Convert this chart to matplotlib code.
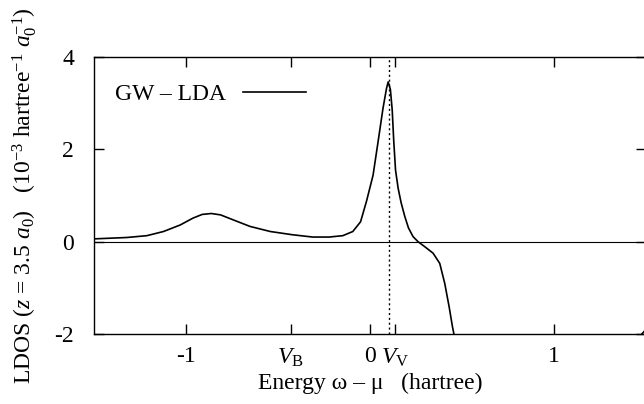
import numpy as np
import matplotlib
matplotlib.use('Agg')
import matplotlib.pyplot as plt

plt.rcParams['font.family'] = 'Liberation Serif'
plt.rcParams['mathtext.fontset'] = 'custom'
plt.rcParams['mathtext.rm'] = 'Liberation Serif'
plt.rcParams['mathtext.it'] = 'Liberation Serif:italic'
plt.rcParams['axes.unicode_minus'] = False

# LDOS difference GW - LDA
energy = [-1.50, -1.32, -1.21, -1.12, -1.03, -0.96, -0.91, -0.86, -0.81, -0.74,
          -0.65, -0.54, -0.42, -0.31, -0.22, -0.146, -0.092, -0.050, -0.018,
          0.018, 0.045, 0.072, 0.091, 0.100, 0.112, 0.122, 0.130, 0.140, 0.154,
          0.170, 0.190, 0.210, 0.235, 0.262, 0.299, 0.344, 0.380, 0.407,
          0.431, 0.449, 0.458, 0.50, 1.40, 1.455, 1.50]
ldos = [0.06, 0.09, 0.13, 0.22, 0.36, 0.51, 0.59, 0.61, 0.58, 0.47,
        0.33, 0.22, 0.15, 0.10, 0.10, 0.13, 0.22, 0.43, 0.87,
        1.44, 2.16, 2.89, 3.32, 3.46, 3.30, 2.85, 2.20, 1.55, 1.16,
        0.85, 0.55, 0.30, 0.11, 0.0, -0.11, -0.25, -0.47, -0.90,
        -1.41, -1.84, -2.02, -3.0, -3.0, -2.1, -1.90]

v_b = -0.429
v_v = 0.136
v_line = 0.106

xticks = [-1, v_b, 0, v_v, 1]
xticklabels = ['-1', r'$V_{\mathrm{B}}$', '0', r'$V_{\mathrm{V}}$', '1']
yticks = [-2, 0, 2, 4]

fig = plt.figure(figsize=(6.44, 4.04), dpi=100)
ax = fig.add_axes([93.5 / 644, 70 / 404, (646 - 93.5) / 644, (334 - 57) / 404])

ax.axhline(0, color='black', lw=0.8)
ax.axvline(v_line, color='black', lw=1.0, ls=(0, (1.5, 2)))
ax.plot(energy, ldos, color='black', lw=1.2, label='GW – LDA')

ax.set_xlim(-1.5, 1.5)
ax.set_ylim(-2, 4)
ax.set_xticks(xticks)
ax.set_xticklabels(xticklabels)
ax.set_yticks(yticks)
ax.tick_params(direction='in', length=7, width=1, top=True, right=True,
               labelsize=17)
ax.tick_params(axis='x', pad=9)
ax.tick_params(axis='y', pad=14)
for s in ax.spines.values():
    s.set_linewidth(1)

ax.set_xlabel('Energy ω – μ   (hartree)', fontsize=17, labelpad=3)
ax.set_ylabel(r'LDOS ($z$ = 3.5 $a_0$)   (10$^{-3}$ hartree$^{-1}$ $a_0^{-1}$)',
              fontsize=17, labelpad=11)

leg = ax.legend(loc='upper left', frameon=False, fontsize=17, handlelength=2.7,
                handletextpad=0.7, markerfirst=False, borderpad=0,
                borderaxespad=0, bbox_to_anchor=(0.039, 0.905))

fig.savefig('out.png', dpi=100)
